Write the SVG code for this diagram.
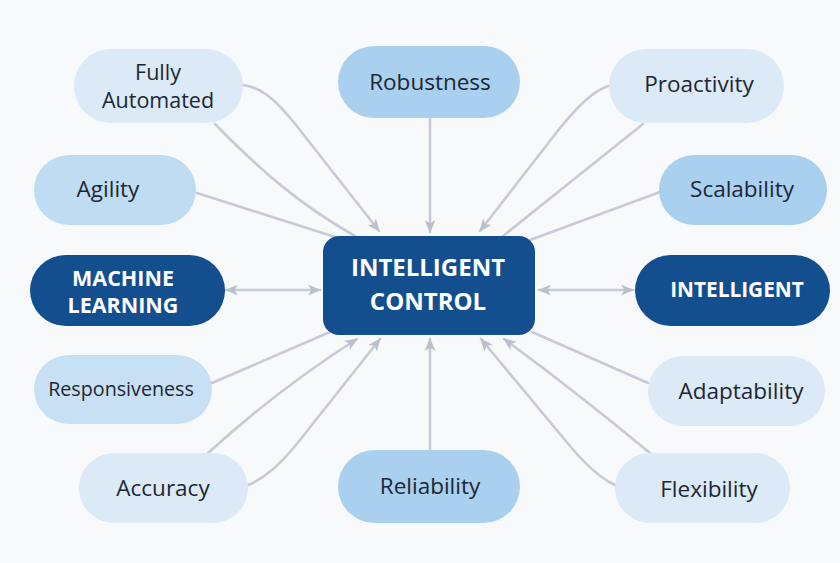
<svg xmlns="http://www.w3.org/2000/svg" width="840" height="563" viewBox="0 0 840 563">
<defs>
<marker id="ah" viewBox="0 0 12 10" refX="11" refY="5" markerWidth="13" markerHeight="11" markerUnits="userSpaceOnUse" orient="auto-start-reverse">
<path d="M0,0 L12,5 L0,10 L3,5 Z" fill="#b9c2cc"/>
</marker>
<style>
.bg{fill:#f8f9fb}
.c{fill:none;stroke:#c5ccd5;stroke-width:2.6;stroke-linecap:round}
.light{fill:#dce9f6}
.mid{fill:#a9d0ee}
.agi{fill:#c0dcf2}
.resp{fill:#c8e0f4}
.dark{fill:#134e8f}
.t{font-family:"Open Sans","Noto Sans","Liberation Sans",sans-serif;font-size:22.5px;fill:#1c2733;text-anchor:middle}
.t2{font-size:21.5px}
.t3{font-size:19.7px}
.tw{font-family:"Open Sans","Noto Sans","Liberation Sans",sans-serif;font-weight:700;fill:#ffffff;text-anchor:middle}
.tw1{font-size:21.5px}
.tw2{font-size:24px}
.tw3{font-size:20.8px}
</style>
</defs>
<rect class="bg" x="0" y="0" width="840" height="563"/>
<g id="connectors">
<path class="c" d="M243,85 C265,88 280,105 300,130 L379,231" marker-end="url(#ah)"/>
<path class="c" d="M215,124 C260,170 300,205 355,236"/>
<path class="c" d="M197,193 L335,237"/>
<path class="c" d="M430,118 L430,232" marker-end="url(#ah)"/>
<path class="c" d="M608,86 C592,92 578,106 560,128 L480,231" marker-end="url(#ah)"/>
<path class="c" d="M643,124 L503,236"/>
<path class="c" d="M660,192 L530,240"/>
<path class="c" d="M226,290 L320,290" marker-start="url(#ah)" marker-end="url(#ah)"/>
<path class="c" d="M539,290 L633,290" marker-start="url(#ah)" marker-end="url(#ah)"/>
<path class="c" d="M212,383 L330,332"/>
<path class="c" d="M208,453 C250,415 300,375 357,339" marker-end="url(#ah)"/>
<path class="c" d="M248,485 C265,478 280,465 300,440 L380,339" marker-end="url(#ah)"/>
<path class="c" d="M430,450 L430,339" marker-end="url(#ah)"/>
<path class="c" d="M615,485 C600,478 585,465 565,440 L481,339" marker-end="url(#ah)"/>
<path class="c" d="M650,453 C610,420 560,380 504,339" marker-end="url(#ah)"/>
<path class="c" d="M648,383 L532,332"/>
</g>
<g id="fully-automated"><rect class="light" x="74" y="49" width="169" height="74" rx="37"/><text class="t t2" x="158" y="80">Fully</text><text class="t t2" x="158" y="108">Automated</text></g>
<g id="robustness"><rect class="mid" x="338" y="46" width="182" height="72" rx="36"/><text class="t" x="430" y="90">Robustness</text></g>
<g id="proactivity"><rect class="light" x="609" y="49" width="175" height="74" rx="37"/><text class="t" x="699" y="92">Proactivity</text></g>
<g id="agility"><rect class="agi" x="34" y="155" width="162" height="70" rx="35"/><text class="t" x="108" y="197">Agility</text></g>
<g id="scalability"><rect class="mid" x="659" y="155" width="168" height="70" rx="35"/><text class="t" x="742" y="197">Scalability</text></g>
<g id="machine-learning"><rect class="dark" x="30" y="255" width="195" height="71" rx="35.5"/><text class="tw tw1" x="123" y="286">MACHINE</text><text class="tw tw1" x="123" y="313">LEARNING</text></g>
<g id="intelligent-control"><rect class="dark" x="323" y="236" width="212" height="99" rx="16"/><text class="tw tw2" x="428" y="276">INTELLIGENT</text><text class="tw tw2" x="428" y="310">CONTROL</text></g>
<g id="intelligent"><rect class="dark" x="635" y="255" width="195" height="71" rx="35.5"/><text class="tw tw3" x="737" y="297">INTELLIGENT</text></g>
<g id="responsiveness"><rect class="resp" x="34" y="355" width="178" height="69" rx="34.5"/><text class="t t3" x="121" y="396">Responsiveness</text></g>
<g id="adaptability"><rect class="light" x="648" y="356" width="177" height="70" rx="35"/><text class="t" x="741" y="399">Adaptability</text></g>
<g id="accuracy"><rect class="light" x="79" y="453" width="169" height="70" rx="35"/><text class="t" x="163" y="496">Accuracy</text></g>
<g id="reliability"><rect class="mid" x="338" y="450" width="182" height="73" rx="36.5"/><text class="t" x="430" y="494">Reliability</text></g>
<g id="flexibility"><rect class="light" x="615" y="453" width="175" height="70" rx="35"/><text class="t" x="709" y="497">Flexibility</text></g>
</svg>
